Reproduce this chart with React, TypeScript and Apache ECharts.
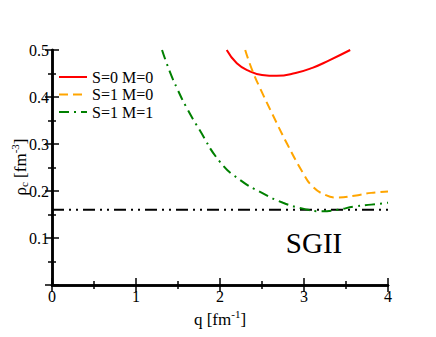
import React, { useEffect, useRef } from "react";
import * as echarts from "echarts";

const redQ = [2.08, 2.2, 2.35, 2.5, 2.675, 2.9, 3.1, 3.3, 3.55];
const redRho = [0.5, 0.472, 0.455, 0.447, 0.445, 0.451, 0.462, 0.478, 0.5];

const orangeQ = [2.3, 2.39, 2.5, 2.62, 2.8, 2.99, 3.1, 3.25, 3.4, 3.6, 3.8, 4.0];
const orangeRho = [0.5, 0.454, 0.41, 0.365, 0.3, 0.238, 0.21, 0.192, 0.186, 0.19, 0.196, 0.199];

const greenQ = [1.31, 1.4, 1.5, 1.6, 1.75, 2.0, 2.25, 2.5, 2.75, 3.0, 3.2, 3.4, 3.6, 3.8, 4.0];
const greenRho = [0.5, 0.455, 0.414, 0.378, 0.332, 0.262, 0.222, 0.196, 0.175, 0.162, 0.157, 0.16, 0.167, 0.171, 0.175];

const refQ = [0, 4];
const refRho = [0.16, 0.16];

const seriesNames = ["S=0 M=0", "S=1 M=0", "S=1 M=1"];

const zip = (a: number[], b: number[]) => a.map((v, i) => [v, b[i]]);

const FONT = "Liberation Serif";

export default function App() {
  const ref = useRef<HTMLDivElement>(null);
  useEffect(() => {
    if (!ref.current) return;
    document.body.style.margin = "0";
    const chart = echarts.init(ref.current, undefined, { renderer: "svg" });
    const axisLine = { show: true, lineStyle: { color: "#000", width: 2.5 } };
    const tick = { show: true, inside: true, length: 7, lineStyle: { color: "#000", width: 1.5 } };
    const minor = { show: true, splitNumber: 2, length: 4, lineStyle: { color: "#000", width: 1.5 } };
    const label = { fontFamily: FONT, fontSize: 16, color: "#000", margin: 3 };
    chart.setOption({
      animation: false,
      backgroundColor: "#fff",
      textStyle: { fontFamily: FONT },
      grid: { left: 52, right: 48, top: 50, bottom: 52 },
      legend: {
        data: seriesNames,
        orient: "vertical",
        left: 53,
        top: 64,
        itemWidth: 28,
        itemHeight: 14,
        itemGap: 1.5,
        itemStyle: { opacity: 0 },
        textStyle: { fontFamily: FONT, fontSize: 16, color: "#000", lineHeight: 15 },
      },
      xAxis: [
        {
          type: "value",
          min: 0,
          max: 4,
          interval: 1,
          axisLine,
          axisTick: tick,
          minorTick: minor,
          splitLine: { show: false },
          axisLabel: label,
        },
        {
          type: "value",
          position: "top",
          min: 0,
          max: 4,
          interval: 1,
          axisLine,
          axisTick: tick,
          minorTick: minor,
          splitLine: { show: false },
          axisLabel: { show: false },
        },
      ],
      yAxis: [
        {
          type: "value",
          min: 0,
          max: 0.5,
          interval: 0.1,
          axisLine,
          axisTick: tick,
          minorTick: minor,
          splitLine: { show: false },
          axisLabel: {
            ...label,
            formatter: (v: number) => (v === 0 ? "" : v.toFixed(1)),
          },
        },
        {
          type: "value",
          position: "right",
          min: 0,
          max: 0.5,
          interval: 0.1,
          axisLine,
          axisTick: tick,
          minorTick: minor,
          splitLine: { show: false },
          axisLabel: { show: false },
        },
      ],
      series: [
        {
          name: seriesNames[0],
          type: "line",
          smooth: true,
          showSymbol: false,
          symbol: "none",
          data: zip(redQ, redRho),
          lineStyle: { color: "#ff0000", width: 2 },
          itemStyle: { color: "#ff0000" },
        },
        {
          name: seriesNames[1],
          type: "line",
          smooth: true,
          showSymbol: false,
          symbol: "none",
          data: zip(orangeQ, orangeRho),
          lineStyle: { color: "#ffa500", width: 2, type: [9, 5] },
          itemStyle: { color: "#ffa500" },
        },
        {
          name: seriesNames[2],
          type: "line",
          smooth: true,
          showSymbol: false,
          symbol: "none",
          data: zip(greenQ, greenRho),
          lineStyle: { color: "#008000", width: 2, type: [10, 5, 2, 5] },
          itemStyle: { color: "#008000" },
        },
        {
          name: "ref",
          type: "line",
          showSymbol: false,
          symbol: "none",
          data: zip(refQ, refRho),
          lineStyle: { color: "#000", width: 2, type: [12, 5, 2, 5, 2, 5] },
          itemStyle: { color: "#000" },
          z: 1,
        },
      ],
      graphic: [
        {
          type: "text",
          x: 314,
          y: 243,
          style: {
            text: "SGII",
            font: `29px ${FONT}`,
            fill: "#000",
            textAlign: "center",
            textVerticalAlign: "middle",
          },
        },
        {
          type: "text",
          x: 220,
          y: 318,
          style: {
            text: "{a|q [fm}{s|-1}{a|]}",
            textAlign: "center",
            textVerticalAlign: "middle",
            fill: "#000",
            rich: {
              a: { fontFamily: FONT, fontSize: 17, lineHeight: 20, verticalAlign: "bottom" },
              s: { fontFamily: FONT, fontSize: 11, lineHeight: 20, verticalAlign: "top" },
            },
          },
        },
        {
          type: "text",
          x: 19,
          y: 167,
          rotation: Math.PI / 2,
          style: {
            text: "{a|ρ}{b|c}{a| [fm}{s|-3}{a|]}",
            textAlign: "center",
            textVerticalAlign: "middle",
            fill: "#000",
            rich: {
              a: { fontFamily: FONT, fontSize: 17, lineHeight: 20, verticalAlign: "bottom" },
              b: { fontFamily: FONT, fontSize: 11, lineHeight: 14, verticalAlign: "bottom" },
              s: { fontFamily: FONT, fontSize: 11, lineHeight: 20, verticalAlign: "top" },
            },
          },
        },
      ],
    });
    return () => chart.dispose();
  }, []);
  return <div ref={ref} style={{ width: 436, height: 337 }} />;
}
